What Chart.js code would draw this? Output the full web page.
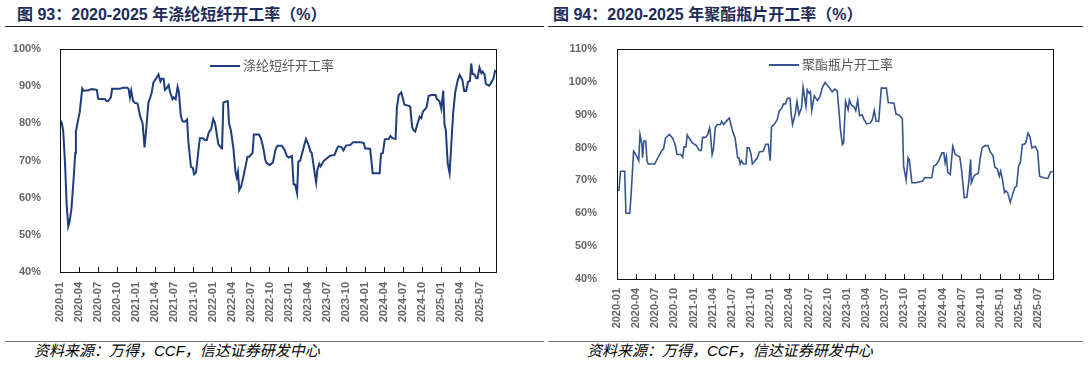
<!DOCTYPE html>
<html lang="zh-CN">
<head>
<meta charset="UTF-8">
<title>涤纶短纤与聚酯瓶片开工率</title>
<script src="https://cdn.jsdelivr.net/npm/chart.js"></script>
<style>
  body {
    margin: 0;
    width: 1088px;
    height: 367px;
    background: #fff;
    position: relative;
    overflow: hidden;
    font-family: 'Liberation Sans', 'Noto Sans CJK SC', sans-serif;
  }
  .title {
    position: absolute;
    top: 5px;
    font-size: 16px;
    font-weight: bold;
    line-height: 20px;
    color: #1c2b5a;
    white-space: nowrap;
  }
  .rule { position: absolute; height: 0; }
  .top-rule { top: 26px; border-top: 1.5px solid #222; }
  .foot-rule { top: 341px; border-top: 1px solid #777; }
  .box { position: absolute; top: 30px; }
  .legend {
    position: absolute;
    font-family: 'Noto Sans CJK SC', sans-serif;
    font-size: 13px;
    line-height: 16px;
    color: #595959;
    white-space: nowrap;
  }
  .legend i {
    display: inline-block;
    width: 30px;
    height: 0;
    vertical-align: middle;
    margin-right: 3px;
  }
  .source {
    position: absolute;
    top: 342px;
    font-size: 15px;
    line-height: 18px;
    font-style: italic;
    color: #000;
    white-space: nowrap;
  }
</style>
</head>
<body>
  <div class="title" style="left:17px">图 93：2020-2025 年涤纶短纤开工率（%）</div>
  <div class="title" style="left:553px">图 94：2020-2025 年聚酯瓶片开工率（%）</div>
  <div class="rule top-rule" style="left:5px;width:539px"></div>
  <div class="rule top-rule" style="left:548px;width:535px"></div>

  <div class="box" style="left:0"><canvas id="staple" width="544" height="306"></canvas></div>
  <div class="box" style="left:544px"><canvas id="bottle" width="544" height="306"></canvas></div>

  <div class="legend" style="left:210px;top:57px"><i style="border-top:2px solid #1f3c7c"></i>涤纶短纤开工率</div>
  <div class="legend" style="left:769px;top:56px"><i style="border-top:2px solid #34558f"></i>聚酯瓶片开工率</div>

  <div class="rule foot-rule" style="left:5px;width:539px"></div>
  <div class="rule foot-rule" style="left:548px;width:535px"></div>
  <div class="source" style="left:34px">资料来源：万得，CCF，信达证券研发中心</div>
  <div class="source" style="left:587px">资料来源：万得，CCF，信达证券研发中心</div>

<script>
// x values are months since 2020-01 (roughly weekly detail)
const quarterLabels = [
  '2020-01','2020-04','2020-07','2020-10','2021-01','2021-04','2021-07','2021-10',
  '2022-01','2022-04','2022-07','2022-10','2023-01','2023-04','2023-07','2023-10',
  '2024-01','2024-04','2024-07','2024-10','2025-01','2025-04','2025-07'
];

const stapleMonth = [
  0,0.3,0.5,0.8,1.05,1.3,1.5,1.8,2.1,2.4,
  2.5,2.8,3.1,3.5,3.7,4.5,5.0,5.8,6.0,7.1,
  7.3,7.6,8.0,8.2,9.4,10.0,10.6,10.8,11.0,11.2,
  11.5,11.8,12.2,12.6,13.0,13.3,13.6,13.9,14.4,14.7,
  15.1,15.5,15.8,16.0,16.3,16.5,16.8,17.1,17.3,17.7,
  17.9,18.2,18.5,18.7,19.0,19.3,19.7,20.0,20.2,20.6,
  20.9,21.1,21.4,22.0,22.5,22.8,23.1,23.4,23.8,24.1,
  24.4,24.9,25.3,25.5,25.7,26.4,26.6,26.9,27.3,27.6,
  27.8,28.0,28.2,28.5,28.9,29.2,29.5,29.8,30.0,30.3,
  30.5,30.9,31.3,31.6,32.0,32.3,32.5,33.0,33.5,33.9,
  34.2,34.9,35.3,35.7,36.0,36.5,36.75,37.0,37.3,37.5,
  37.8,38.3,38.7,39.1,39.4,39.6,40.0,40.3,40.5,40.8,
  41.0,41.5,42.0,42.5,43.2,43.5,43.8,44.3,44.6,45.0,
  45.7,46.1,47.3,47.8,48.0,48.8,49.2,50.3,50.5,50.8,
  51.1,51.7,52.0,52.3,52.8,53.0,53.3,53.7,54.2,54.9,
  55.1,55.4,55.6,55.9,56.2,56.6,56.85,57.1,57.5,57.7,
  58.0,58.5,59.1,59.3,59.7,60.0,60.3,60.5,60.7,61.0,
  61.3,61.7,61.9,62.2,62.6,62.9,63.3,63.6,63.9,64.2,
  64.5,64.7,64.9,65.2,65.5,65.7,66.0,66.3,66.5,66.8,
  67.0,67.5,67.8,68.2,68.5
];
const stapleRate = [
  81,80,78,69,58,52.3,53.5,57,64,72,
  77.8,80.5,83,89.4,88.8,88.9,89.2,89,86.6,86.5,
  86,86,87,89.3,89.3,89.6,89.6,89.2,87,88.8,
  86,85.5,85.3,82,80,73.5,79,85.5,88,91,
  92,93.2,91.3,92,92,89,89.5,90.3,88.5,86.5,
  87,86.5,89.8,88.5,82,80.5,80.5,81,75,68.3,
  68,66.3,66.8,76,76,75.5,75.5,77.5,78.5,81.2,
  80,74.5,73.5,73.3,85.6,86,80,78,73,67,
  65.5,67,62,63,66,68.5,71,71,71.5,72,
  77,77,77,76,73.3,70.2,69.3,68.8,69.5,72.9,
  74,74,73,71.2,70.8,71.2,63.6,63.5,61.2,69.7,
  70,73.3,75.8,74.2,72.4,72.1,67.5,64.1,67.5,69.1,
  68.4,69.9,70.6,71.3,71.5,72.9,73.8,73.6,72.7,74,
  74.2,74.9,74.9,74.7,73.3,73.1,66.6,66.6,71.8,72,
  75.7,75.8,76.6,76,75.8,84.1,87.6,88.3,85,84.7,
  84.5,79.1,78.2,77.8,79.6,81.8,81.4,83.2,83.9,84.5,
  87.4,87.6,87.6,86.5,86,83.9,88.8,79.6,78.2,69.3,
  66.6,78.2,83.6,88.5,91.7,93,91.7,88.7,88.7,91.2,
  91.4,96.1,93.3,93.2,92.1,92.1,95,93.5,93.9,93.2,
  90.6,90.1,90.8,92.1,94.4
];

const bottleMonth = [
  0,0.3,0.55,1.2,1.4,2.0,2.2,2.6,2.8,3.2,
  3.4,3.6,3.9,4.0,4.2,4.5,4.7,4.9,5.9,6.4,
  6.9,7.3,7.6,8.2,8.7,9.1,9.4,10.0,10.3,10.5,
  10.8,11.0,11.3,11.8,12.4,12.9,13.2,13.4,13.9,14.2,
  14.5,14.6,14.9,15.1,15.4,15.7,16.2,16.4,16.7,17.2,
  17.6,18.1,18.5,18.9,19.1,19.3,19.5,19.8,20.2,20.4,
  20.7,21.0,21.2,21.6,22.0,22.3,22.9,23.3,23.7,24.0,
  24.2,24.6,25.1,25.4,25.8,26.1,26.4,26.7,27.1,27.3,
  27.5,27.9,28.2,28.5,28.9,29.15,29.6,29.8,30.1,30.3,
  30.5,30.9,31.4,31.8,32.2,32.6,33.2,33.7,34.1,34.5,
  34.8,35.0,35.3,35.5,35.8,36.2,36.4,36.7,37.1,37.4,
  37.7,38.0,38.4,38.7,39.1,39.7,40.0,40.3,40.6,41.0,
  41.4,42.2,42.5,43.4,43.7,44.1,44.4,44.7,44.9,45.3,
  45.6,45.8,46.2,46.8,47.3,47.9,48.2,49.3,49.6,50.0,
  50.4,50.9,51.2,51.4,51.6,51.8,52.2,52.6,53.0,53.2,
  53.7,54.0,54.4,54.8,55.1,55.4,55.5,55.9,56.2,56.6,
  56.9,57.2,57.6,58.1,58.5,58.9,59.2,59.6,59.9,60.1,
  60.4,60.7,60.9,61.2,61.6,61.9,62.3,62.6,62.9,63.2,
  63.5,64.0,64.4,64.7,65.0,65.5,65.9,66.2,66.8,67.5,
  67.9,68.25
];
const bottleRate = [
  67,67,72.8,72.8,60,60,65.3,78.9,78.4,76.9,
  76,84,81,76.9,82,82,76,75,75,76.9,
  78.7,79.7,82.9,84,82.9,81,77.9,77.9,77.1,80.2,
  80.2,83.9,82.9,81.4,80.7,79.1,79.1,83.1,83.1,83.9,
  86,85,77.9,79.4,86,87,87,88,87,88.2,
  89,85,82.9,76.9,76.9,75,76,75,75,79.9,
  79.9,77.9,75,75.9,76.9,78.7,78.9,81,81,76,
  86.3,87,88.5,91,92,93.3,93.3,95,95,90,
  87,90,94,90,92,98.4,92.5,97.6,96.5,97,
  91.3,95.8,94.3,95.6,98.4,99.8,98.4,97,97.8,97.3,
  90.5,85.5,80.9,81.4,94,91.5,94.5,93,92.5,91.2,
  94.5,89.7,90,88.5,87.2,87.5,88.5,91.3,88,88,
  98.1,98.1,93.7,93.5,90.2,90,89.5,88.7,74.3,70.1,
  76.9,76.2,69.3,69.3,69.5,69.8,70.8,70.8,74.3,74.8,
  76,78.4,78.4,75.4,77.2,72.5,71.8,80.4,77.9,77.7,
  77.1,72.8,64.7,64.9,69.3,76.4,69.3,71.3,71.8,72.1,
  76.9,79.9,80.6,80.6,78.6,77.6,74,73.5,71.3,72.8,
  70.1,66.3,66.8,66.3,63.4,65.3,67.8,68.3,74.3,75.6,
  80.9,81.2,84.4,83.2,79.9,80.4,78.9,71.3,70.8,70.6,
  72.5,72.8
];

Chart.defaults.font.family = "'Liberation Sans', Arial, sans-serif";
Chart.defaults.color = '#595959';

// box around the plot area
const frame = {
  id: 'frame',
  afterDraw(chart) {
    const a = chart.chartArea, c = chart.ctx;
    c.save();
    c.strokeStyle = '#111';
    c.lineWidth = 1;
    c.strokeRect(Math.round(a.left) + 0.5, Math.round(a.top) + 0.5,
      Math.round(a.right - a.left), Math.round(a.bottom - a.top));
    c.restore();
  }
};

function drawChart(id, months, rates, o) {
  const pts = months.map((m, i) => ({ x: m, y: rates[i] }));
  return new Chart(document.getElementById(id), {
    type: 'line',
    data: {
      datasets: [{
        data: pts,
        borderColor: o.color,
        borderWidth: o.width,
        pointRadius: 0,
        tension: 0,
        fill: false
      }]
    },
    plugins: [frame],
    options: {
      responsive: false,
      animation: false,
      layout: { padding: { top: 19, right: o.padRight, left: 0, bottom: 0 } },
      plugins: { legend: { display: false }, tooltip: { enabled: false } },
      scales: {
        x: {
          type: 'linear',
          min: 0,
          max: o.xMax,
          afterBuildTicks: s => { s.ticks = quarterLabels.map((_, i) => ({ value: i * 3 })); },
          afterFit: s => { s.height = o.xHeight; },
          ticks: {
            autoSkip: false,
            minRotation: 90,
            maxRotation: 90,
            padding: o.xPad,
            font: { size: 11, weight: 'bold' },
            color: '#666',
            callback: (v, i) => quarterLabels[i]
          },
          grid: { drawOnChartArea: false, drawTicks: true, tickLength: -5, color: '#111' },
          border: { display: false }
        },
        y: {
          min: o.yMin,
          max: o.yMax,
          afterFit: s => { s.width = o.yWidth; },
          ticks: {
            stepSize: 10,
            padding: o.yPad,
            font: { size: 11, weight: 'bold' },
            color: '#666',
            callback: v => v + '%'
          },
          grid: { display: false },
          border: { display: false }
        }
      }
    }
  });
}

drawChart('staple', stapleMonth, stapleRate, {
  color: '#1f3c7c', width: 2, xMax: 68.6, yMin: 40, yMax: 100,
  yWidth: 60, xHeight: 64, padRight: 48, xPad: 15, yPad: 11
});
drawChart('bottle', bottleMonth, bottleRate, {
  color: '#34558f', width: 1.6, xMax: 68.3, yMin: 40, yMax: 110,
  yWidth: 73, xHeight: 57, padRight: 35, xPad: 14, yPad: 12
});
</script>
</body>
</html>
